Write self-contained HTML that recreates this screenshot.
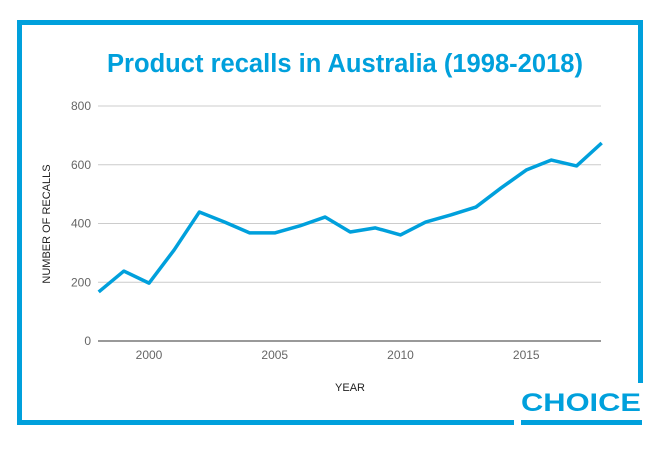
<!DOCTYPE html>
<html><head><meta charset="utf-8"><style>
body{margin:0;background:#fff;width:659px;height:446px;overflow:hidden;font-family:"Liberation Sans",sans-serif}
</style></head><body>
<svg width="659" height="446">
<g id="frame" fill="#00a0dc">
<rect x="17" y="20" width="626" height="5"/>
<rect x="17" y="20" width="5" height="405"/>
<rect x="638" y="20" width="5" height="363"/>
<rect x="17" y="420" width="497" height="5"/>
<rect x="521" y="420" width="121" height="5"/>
</g>
<text x="581" y="411" text-anchor="middle" font-size="25" font-weight="bold" fill="#00a0dc" textLength="120" lengthAdjust="spacingAndGlyphs">CHOICE</text>
<text x="345" y="72" text-anchor="middle" font-size="25.5" font-weight="bold" fill="#00a0dc" textLength="476" lengthAdjust="spacingAndGlyphs">Product recalls in Australia (1998-2018)</text>
<g id="grid"></g>
<g id="ylabels" font-size="12" fill="#666" text-anchor="end"></g>
<g id="xlabels" font-size="12" fill="#666" text-anchor="middle"></g>
<text x="350" y="391" text-anchor="middle" font-size="11" fill="#222">YEAR</text>
<text transform="translate(50,224) rotate(-90)" text-anchor="middle" font-size="11" fill="#222">NUMBER OF RECALLS</text>
<path id="line" fill="none" stroke="#00a0dc" stroke-width="3.5" stroke-linejoin="round"/>
</svg>
<script>
const years=[1998,1999,2000,2001,2002,2003,2004,2005,2006,2007,2008,2009,2010,2011,2012,2013,2014,2015,2016,2017,2018];
const recalls=[167,238,197,310,439,405,368,368,392,422,371,385,361,405,429,456,521,582,616,596,674];
const yTicks=[0,200,400,600,800];
const xTicks=[2000,2005,2010,2015];
const x=v=>98.7+(v-1998)*25.15;
const y=v=>341-v*0.29375;
const NS="http://www.w3.org/2000/svg";
const grid=document.getElementById('grid'),yl=document.getElementById('ylabels'),xl=document.getElementById('xlabels');
yTicks.forEach(t=>{
 const l=document.createElementNS(NS,'line');
 l.setAttribute('x1',98);l.setAttribute('x2',601);l.setAttribute('y1',y(t));l.setAttribute('y2',y(t));
 l.setAttribute('stroke',t===0?'#333':'#ccc');l.setAttribute('stroke-width',1);
 
 
 grid.appendChild(l);
 const tx=document.createElementNS(NS,'text');
 tx.setAttribute('x',91);tx.setAttribute('y',y(t)+4);tx.textContent=t;
 
 
 yl.appendChild(tx);
});
xTicks.forEach(t=>{
 const tx=document.createElementNS(NS,'text');
 tx.setAttribute('x',x(t));tx.setAttribute('y',359);tx.textContent=t;
 
 
 xl.appendChild(tx);
});
document.getElementById('line').setAttribute('d',years.map((yr,i)=>(i?'L':'M')+x(yr)+','+y(recalls[i])).join(''));
</script>
</body></html>
